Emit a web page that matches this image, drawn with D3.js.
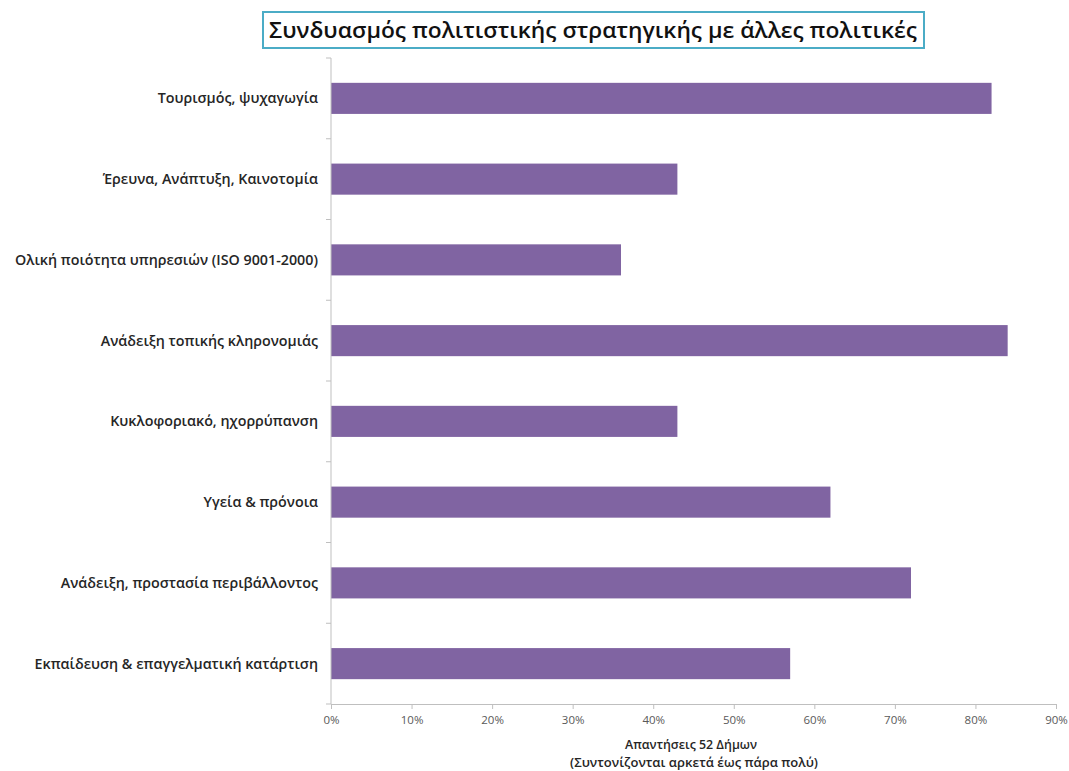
<!DOCTYPE html>
<html>
<head>
<meta charset="utf-8">
<script src="https://cdn.jsdelivr.net/npm/d3@7"></script>
<style>
  body { margin: 0; background: #fff; }
  text { font-family: "Open Sans", "Noto Sans", sans-serif; }
</style>
</head>
<body>
<div id="chart"></div>
<script>
// categories, top to bottom
const categories = [
  "Τουρισμός, ψυχαγωγία",
  "Έρευνα, Ανάπτυξη, Καινοτομία",
  "Ολική ποιότητα υπηρεσιών (ISO 9001-2000)",
  "Ανάδειξη τοπικής κληρονομιάς",
  "Κυκλοφοριακό, ηχορρύπανση",
  "Υγεία & πρόνοια",
  "Ανάδειξη, προστασία περιβάλλοντος",
  "Εκπαίδευση & επαγγελματική κατάρτιση"
]
const values = [0.82, 0.43, 0.36, 0.84, 0.43, 0.62, 0.72, 0.57]
const xTicks = [0, 0.1, 0.2, 0.3, 0.4, 0.5, 0.6, 0.7, 0.8, 0.9]
const title = "Συνδυασμός πολιτιστικής στρατηγικής με άλλες πολιτικές"
const axisTitle = ["Απαντήσεις 52 Δήμων", "(Συντονίζονται αρκετά έως πάρα πολύ)"]

const width = 1069, height = 771
const margin = { top: 58, right: 13, bottom: 67, left: 331 }

const svg = d3.select("#chart").append("svg")
  .attr("width", width)
  .attr("height", height)

const x = d3.scaleLinear().domain([0, 0.9]).range([margin.left, width - margin.right])
const y = d3.scaleBand().domain(categories).range([margin.top, height - margin.bottom]).paddingInner(0.615).paddingOuter(0.3075)

// title with box
const titleG = svg.append("g")
titleG.append("rect")
  .attr("x", 263).attr("y", 12)
  .attr("width", 661).attr("height", 36)
  .attr("fill", "#fff")
  .attr("stroke", "#4bacc6")
  .attr("stroke-width", 2)
titleG.append("text")
  .attr("x", 593).attr("y", 38)
  .attr("text-anchor", "middle")
  .attr("font-size", 21)
  .attr("font-weight", 600)
  .attr("fill", "#111")
  .attr("textLength", 648).attr("lengthAdjust", "spacingAndGlyphs")
  .text(title)

// bars
svg.append("g").selectAll("rect")
  .data(categories)
  .join("rect")
  .attr("x", x(0))
  .attr("y", d => y(d))
  .attr("width", (d, i) => x(values[i]) - x(0))
  .attr("height", y.bandwidth())
  .attr("fill", "#8064a2")

// y axis: line and ticks at band boundaries
const yAxisG = svg.append("g")
yAxisG.append("line")
  .attr("x1", x(0)).attr("x2", x(0))
  .attr("y1", margin.top).attr("y2", height - margin.bottom)
  .attr("stroke", "#bfbfbf")
const step = y.step()
const bounds = d3.range(categories.length + 1).map(i => margin.top + i * step)
yAxisG.selectAll(".yt").data(bounds).join("line")
  .attr("x1", x(0) - 5).attr("x2", x(0))
  .attr("y1", d => d).attr("y2", d => d)
  .attr("stroke", "#bfbfbf")

yAxisG.selectAll(".yl").data(categories).join("text")
  .attr("x", 318)
  .attr("y", d => y(d) + y.bandwidth() / 2)
  .attr("dy", "0.35em")
  .attr("text-anchor", "end")
  .attr("font-size", 14.3)
  .attr("font-weight", 600)
  .attr("fill", "#262626")
  .text(d => d)

// x axis
const xAxis = d3.axisBottom(x)
  .tickValues(xTicks)
  .tickFormat(d3.format(".0%"))
  .tickSize(5)
  .tickPadding(7)
const xg = svg.append("g")
  .attr("transform", `translate(0,${height - margin.bottom})`)
  .call(xAxis)
xg.select(".domain").attr("stroke", "#bfbfbf")
xg.selectAll(".tick line").attr("stroke", "#bfbfbf")
xg.selectAll(".tick text")
  .attr("font-size", 11.5)
  .attr("fill", "#595959")
  .style("font-family", "'Open Sans', sans-serif")

// axis title
svg.append("text")
  .attr("x", 691).attr("y", 749)
  .attr("text-anchor", "middle")
  .attr("font-size", 12.5)
  .attr("font-weight", 600)
  .attr("fill", "#262626")
  .attr("textLength", 132).attr("lengthAdjust", "spacingAndGlyphs")
  .text(axisTitle[0])
svg.append("text")
  .attr("x", 694).attr("y", 767)
  .attr("text-anchor", "middle")
  .attr("font-size", 12.5)
  .attr("font-weight", 600)
  .attr("fill", "#262626")
  .attr("textLength", 248).attr("lengthAdjust", "spacingAndGlyphs")
  .text(axisTitle[1])
</script>
</body>
</html>
